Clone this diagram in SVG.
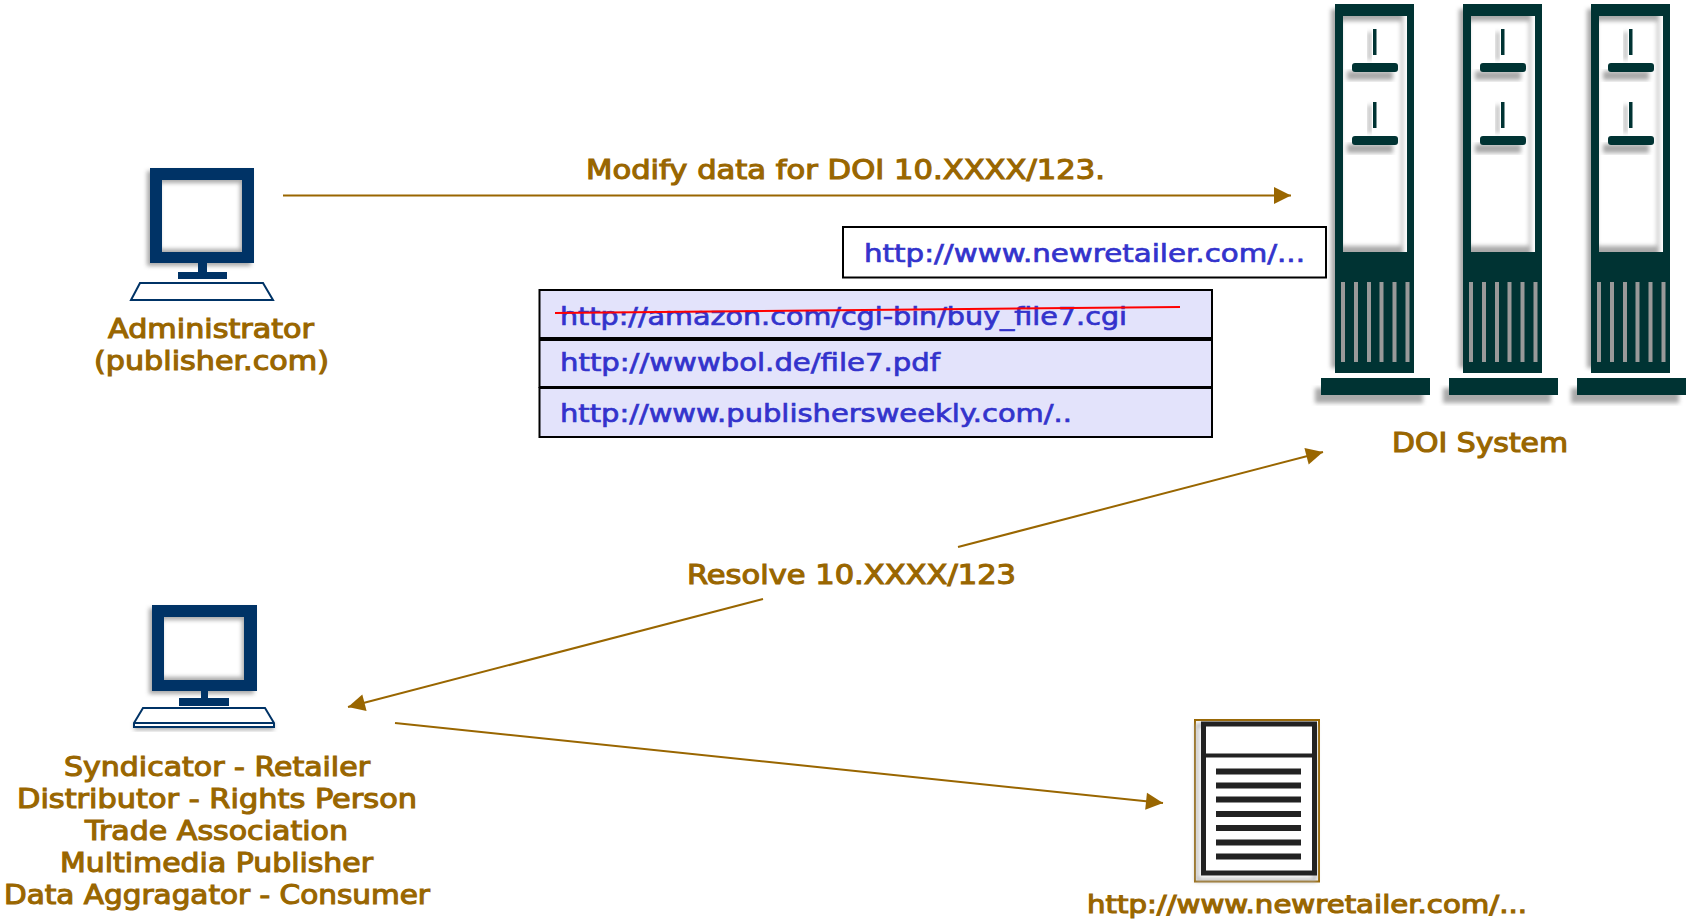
<svg xmlns="http://www.w3.org/2000/svg" xmlns:xlink="http://www.w3.org/1999/xlink" width="1687" height="919" viewBox="0 0 1687 919">
<style>
text{font-family:"DejaVu Sans","Liberation Sans",sans-serif;font-size:26px}
.lb{fill:#996600;stroke:#996600;stroke-width:1.1}
.url{fill:#3333cc;stroke:#3333cc;stroke-width:.7;font-size:25px}
.conn2{stroke:#996600;stroke-width:2;fill:none;marker-end:url(#arrow)}
.tw{fill:#003333}
.nv{fill:#003366}
.doc{fill:#222}
.box{stroke:#000;stroke-width:2;fill:#e3e3fb}
.sh{fill:#555;filter:url(#blur);opacity:.5}
</style>
<defs>
<filter id="blur" x="-20%" y="-20%" width="140%" height="140%"><feGaussianBlur stdDeviation="2"/></filter>
<marker id="arrow" markerUnits="userSpaceOnUse" markerWidth="20" markerHeight="20" refX="18" refY="10" orient="auto"><path d="M1 1.500 L18 10 L1 18.500 Z" fill="#996600"/></marker>
<g id="tower">
<path class="sh" d="M-4 9H68V368H-4Z M6 21V246H66V21Z" fill-rule="evenodd"/>
<rect class="sh" x="12" y="71" width="46" height="9"/>
<rect class="sh" x="12" y="144" width="46" height="9"/>
<rect class="sh" x="33" y="32" width="3" height="28"/>
<rect class="sh" x="33" y="105" width="3" height="28"/>
<rect class="sh" x="-20" y="388" width="108" height="15"/>
<path class="tw" d="M0 4H79V373H0Z M8 16V252H72V16Z" fill-rule="evenodd"/>
<g fill="#999"><rect x="6" y="282" width="4" height="80"/><rect x="19" y="282" width="4" height="80"/><rect x="32" y="282" width="4" height="80"/><rect x="44.500" y="282" width="4" height="80"/><rect x="57.500" y="282" width="4" height="80"/><rect x="70.500" y="282" width="4" height="80"/></g>
<rect class="tw" x="38" y="29" width="3.500" height="26"/>
<rect class="tw" x="17" y="63" width="46" height="9" rx="3"/>
<rect class="tw" x="38" y="102" width="3.500" height="26"/>
<rect class="tw" x="17" y="136" width="46" height="9" rx="3"/>
<rect class="tw" x="-14" y="378" width="109" height="17"/>
</g>
</defs>
<rect width="1687" height="919" fill="#fff"/>
<g id="connectors">
<line class="conn2" x1="283" y1="195.500" x2="1291" y2="195.500"/>
<line class="conn2" x1="958" y1="547" x2="1323" y2="452"/>
<line class="conn2" x1="763" y1="599" x2="348" y2="707"/>
<line class="conn2" x1="395" y1="723" x2="1163" y2="803"/>
</g>
<g id="label-modify"><text class="lb" x="586" y="179" textLength="519" lengthAdjust="spacingAndGlyphs">Modify data for DOI 10.XXXX/123.</text></g>
<g id="label-resolve"><text class="lb" x="687" y="584" textLength="329" lengthAdjust="spacingAndGlyphs">Resolve 10.XXXX/123</text></g>
<g id="administrator">
<path class="sh" d="M147 171H251V266H147Z M160 183V249H240V183Z" fill-rule="evenodd"/>
<path class="nv" d="M150 168H254V263H150Z M162 180V252H242V180Z" fill-rule="evenodd"/>
<rect class="nv" x="198" y="263" width="9" height="9"/>
<rect class="nv" x="178" y="272" width="49" height="7"/>
<path d="M140 283H263L273 300H131Z" fill="#fff" stroke="#003366" stroke-width="2"/>
<text class="lb" x="108" y="338" textLength="206" lengthAdjust="spacingAndGlyphs">Administrator</text>
<text class="lb" x="94" y="370" textLength="235" lengthAdjust="spacingAndGlyphs">(publisher.com)</text>
</g>
<g id="syndicator">
<path class="sh" d="M149 608H254V694H149Z M162 620V677H242V620Z" fill-rule="evenodd"/>
<rect class="sh" x="134" y="722" width="140" height="8"/>
<path class="nv" d="M152 605H257V691H152Z M164 617V680H244V617Z" fill-rule="evenodd"/>
<rect class="nv" x="201" y="691" width="7" height="7"/>
<rect class="nv" x="179" y="698" width="50" height="8"/>
<path d="M143 708H265L274 723V727H134V723Z M134 723H274" fill="#fff" stroke="#003366" stroke-width="2"/>
<text class="lb" x="64" y="776" textLength="306" lengthAdjust="spacingAndGlyphs">Syndicator - Retailer</text>
<text class="lb" x="17" y="808" textLength="400" lengthAdjust="spacingAndGlyphs">Distributor - Rights Person</text>
<text class="lb" x="85" y="840" textLength="263" lengthAdjust="spacingAndGlyphs">Trade Association</text>
<text class="lb" x="60" y="872" textLength="313" lengthAdjust="spacingAndGlyphs">Multimedia Publisher</text>
<text class="lb" x="4" y="904" textLength="426" lengthAdjust="spacingAndGlyphs">Data Aggragator - Consumer</text>
</g>
<g id="doi-system">
<use xlink:href="#tower" href="#tower" x="1335"/>
<use xlink:href="#tower" href="#tower" x="1463"/>
<use xlink:href="#tower" href="#tower" x="1591"/>
<text class="lb" x="1392" y="452" textLength="176" lengthAdjust="spacingAndGlyphs">DOI System</text>
</g>
<g id="new-url"><rect x="843" y="227" width="483" height="50.500" fill="#fff" stroke="#000" stroke-width="2"/><text class="url" x="864" y="262" textLength="441" lengthAdjust="spacingAndGlyphs">http://www.newretailer.com/...</text></g>
<g id="url-list">
<rect class="box" x="539.500" y="290" width="672.500" height="48"/>
<rect class="box" x="539.500" y="340" width="672.500" height="47"/>
<rect class="box" x="539.500" y="388" width="672.500" height="49"/>
<text class="url" x="560" y="325" textLength="567" lengthAdjust="spacingAndGlyphs">http://amazon.com/cgi-bin/buy_file7.cgi</text>
<text class="url" x="560" y="371" textLength="380" lengthAdjust="spacingAndGlyphs">http://wwwbol.de/file7.pdf</text>
<text class="url" x="560" y="422" textLength="512" lengthAdjust="spacingAndGlyphs">http://www.publishersweekly.com/..</text>
<line x1="555" y1="313" x2="1180" y2="307" stroke="#f00" stroke-width="2"/>
</g>
<g id="document">
<rect x="1195" y="720" width="124" height="161.500" fill="#fff" stroke="#996600" stroke-width="2"/>
<rect x="1197" y="725" width="118" height="155" fill="none" stroke="#aaa" stroke-width="3" filter="url(#blur)"/>
<rect x="1203.500" y="724" width="111" height="149" fill="#fff" stroke="#222" stroke-width="5"/>
<rect class="doc" x="1203" y="753.500" width="112" height="4"/>
<g class="doc"><rect x="1216" y="768.500" width="85" height="6"/><rect x="1216" y="782.500" width="85" height="6"/><rect x="1216" y="796.500" width="85" height="6"/><rect x="1216" y="811" width="85" height="6"/><rect x="1216" y="825" width="85" height="6"/><rect x="1216" y="839.500" width="85" height="6"/><rect x="1216" y="853.500" width="85" height="6"/></g>
<text class="lb" x="1087" y="913" textLength="440" lengthAdjust="spacingAndGlyphs" style="font-size:25px">http://www.newretailer.com/...</text>
</g>
</svg>
